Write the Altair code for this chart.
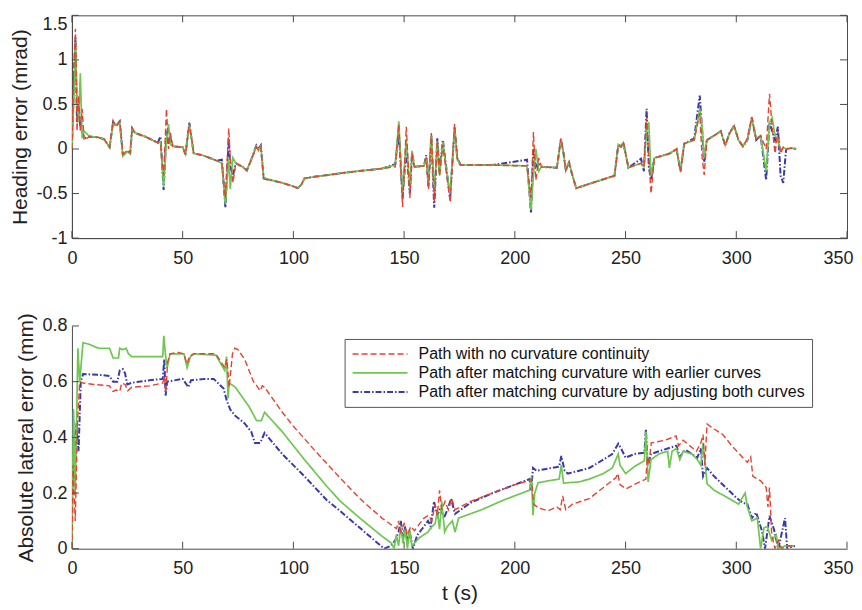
import altair as alt
import pandas as pd

SERIES = [
    "Path with no curvature continuity",
    "Path after matching curvature with earlier curves",
    "Path after matching curvature by adjusting both curves",
]
COLORS = ["#e5432f", "#6fc651", "#3a3aaa"]
DASHES = [[6, 3], [1, 0], [6, 2, 1.5, 2]]
WIDTHS = [1.4, 2.0, 1.2]

X_TICKS = [0, 50, 100, 150, 200, 250, 300, 350]
H_YTICKS = [-1, -0.5, 0, 0.5, 1, 1.5]
L_YTICKS = [0, 0.2, 0.4, 0.6, 0.8]

# ---------------- heading error (top panel) ----------------
H_T = [0, 0.8, 1.6, 2.3, 3.0, 3.8, 4.6, 5.5, 8, 12, 14.5, 17, 18.6, 20, 21.6, 23, 25, 26.3, 27.2, 28.5,
       33, 38.8, 40, 41.4, 42.7, 43.6, 44.5, 45.5, 50, 51.3, 53, 55, 59, 65.3, 67.7, 69.3, 70.8, 71.5, 72.7, 74,
       77, 79, 80.5, 83.3, 84.3, 85.3, 86.6, 90, 95, 100, 102, 103.6, 105, 110, 125, 140, 146, 147.6, 149.3, 151,
       152.6, 153.6, 154.6, 159, 160, 161, 162.3, 163.6, 165, 166, 167.5, 169, 170.8, 172.8, 174, 175.5, 190, 205.5, 207.3, 208.4,
       209.5, 210.8, 212, 219, 220.8, 222, 223, 224.5, 225.7, 227.7, 235, 245, 246.7, 248, 249, 251.3, 257, 258.3, 259.5, 260.5,
       261.5, 263, 266, 270, 273, 274.8, 276.5, 281, 283.5, 284.6, 285.5, 286.7, 290, 293, 295, 297, 299, 301, 303, 305,
       307, 309, 311, 313.5, 315, 316.2, 317.5, 318.8, 320, 321.2, 322.5, 325, 327]
H_RED = [0.0, 0.9, 1.35, 0.2, 0.6, 0.2, 0.45, 0.1, 0.14, 0.13, 0.11, 0.02, 0.32, 0.25, 0.31, -0.06, -0.02, -0.04, 0.24, 0.18,
         0.14, 0.07, 0.06, -0.3, 0.45, 0.0, 0.18, 0.03, 0.02, -0.06, 0.30, -0.05, -0.07, -0.13, -0.16, -0.55, 0.23, -0.1, -0.38, -0.16,
         -0.2, -0.24, -0.15, 0.02, -0.02, 0.02, -0.34, -0.35, -0.38, -0.42, -0.44, -0.4, -0.33, -0.31, -0.26, -0.22, -0.2, 0.28, -0.65, 0.25,
         -0.55, -0.05, -0.2, -0.19, -0.1, -0.45, 0.18, -0.6, 0.1, -0.3, 0.05, -0.25, -0.6, 0.28, -0.1, -0.18, -0.18, -0.19, -0.55, 0.19,
         -0.35, -0.1, -0.2, -0.21, 0.12, -0.05, -0.24, -0.15, -0.27, -0.44, -0.38, -0.3, 0.04, 0.02, 0.08, -0.21, -0.16, -0.2, 0.35, -0.1,
         -0.5, -0.1, -0.08, -0.05, 0.0, -0.26, 0.06, 0.1, 0.4, -0.1, -0.29, 0.1, 0.15, 0.2, 0.04, 0.18, 0.26, 0.1, 0.03, 0.12,
         0.36, 0.1, 0.15, 0.0, 0.62, 0.25, -0.05, 0.2, -0.05, 0.02, 0.0, 0.01, 0.0]
H_GRN = [0.0, 0.5, 1.2, 0.5, 0.3, 0.85, 0.12, 0.2, 0.14, 0.13, 0.11, 0.02, 0.28, 0.27, 0.30, -0.08, -0.03, -0.05, 0.22, 0.18,
         0.14, 0.07, 0.08, -0.42, 0.1, 0.28, 0.05, 0.03, 0.02, -0.06, 0.27, -0.05, -0.07, -0.13, -0.16, -0.62, -0.1, -0.45, -0.1, -0.16,
         -0.2, -0.24, -0.15, 0.03, -0.01, 0.03, -0.32, -0.35, -0.38, -0.42, -0.44, -0.4, -0.33, -0.31, -0.26, -0.22, -0.18, 0.31, -0.5, 0.1,
         -0.45, -0.02, -0.2, -0.19, -0.1, -0.4, 0.16, -0.5, 0.08, -0.3, 0.08, -0.22, -0.5, 0.25, -0.12, -0.18, -0.18, -0.19, -0.68, -0.3,
         0.0, -0.25, -0.2, -0.21, 0.1, -0.05, -0.24, -0.15, -0.27, -0.44, -0.38, -0.3, 0.05, 0.03, 0.07, -0.21, -0.16, -0.2, 0.2, 0.3,
         -0.3, -0.1, -0.08, -0.05, 0.0, -0.24, 0.06, 0.1, 0.45, 0.25, -0.1, 0.1, 0.15, 0.2, 0.04, 0.18, 0.26, 0.1, 0.03, 0.1,
         0.34, 0.12, 0.15, -0.25, 0.3, 0.35, 0.15, 0.1, -0.02, 0.02, 0.0, 0.01, 0.0]
H_BLU = [0.0, 0.7, 1.25, 0.3, 0.5, 0.25, 0.2, 0.12, 0.14, 0.13, 0.11, 0.02, 0.30, 0.26, 0.31, -0.07, -0.02, -0.05, 0.23, 0.18,
         0.14, 0.07, 0.14, -0.46, 0.2, 0.05, 0.12, 0.03, 0.02, -0.06, 0.29, -0.05, -0.07, -0.13, -0.12, -0.66, 0.12, -0.2, -0.3, -0.16,
         -0.2, -0.24, -0.15, 0.04, 0.0, 0.04, -0.33, -0.35, -0.38, -0.42, -0.44, -0.4, -0.33, -0.31, -0.26, -0.22, -0.17, 0.2, -0.55, 0.0,
         -0.5, -0.04, -0.2, -0.19, -0.07, -0.42, 0.15, -0.66, 0.12, -0.25, 0.1, -0.2, -0.55, 0.24, -0.1, -0.18, -0.18, -0.12, -0.72, 0.0,
         -0.2, -0.15, -0.2, -0.21, 0.11, -0.05, -0.24, -0.15, -0.27, -0.44, -0.38, -0.3, 0.05, 0.03, 0.07, -0.21, -0.11, -0.25, 0.45, -0.2,
         -0.35, -0.1, -0.08, -0.05, 0.0, -0.25, 0.06, 0.12, 0.6, 0.2, -0.15, 0.1, 0.15, 0.2, 0.04, 0.18, 0.26, 0.1, 0.03, 0.1,
         0.35, 0.1, 0.15, -0.35, 0.3, 0.2, 0.1, 0.25, -0.3, -0.38, 0.0, 0.01, 0.0]

# ---------------- absolute lateral error (bottom panel) ----------------
L_RED_T = [0, 0.5, 1.5, 2.5, 3.5, 5, 10, 17, 18.5, 20, 21.6, 22.5, 24, 25.2, 27, 35, 41, 41.8, 42.4, 43.2,
           44.3, 48, 50.5, 52, 53, 55, 60, 65, 67, 69, 70, 71, 72.5, 73.5, 75, 78, 82, 83.5, 85, 86,
           87, 95, 100, 110, 121, 130, 140, 146.6, 147.5, 148.5, 150, 151.5, 153, 154.7, 157, 159, 161, 162.5, 164, 165,
           166, 167, 168.5, 170, 171.5, 173, 180, 190, 200, 206.6, 207.5, 208.5, 210.5, 215, 219, 220.5, 221.6, 223, 226, 233.6,
           240, 245.6, 246.5, 247.5, 250.2, 255, 259.2, 259.8, 260.5, 261.6, 268, 272.8, 274, 276, 282, 284, 285, 285.8, 286.8, 290,
           293.9, 298, 301.4, 305, 306.5, 307.5, 311, 313.5, 314.3, 315, 316, 317.5, 319, 320.5, 323, 326.5]
L_RED = [0.0, 0.3, 0.1, 0.45, 0.6, 0.595, 0.59, 0.585, 0.565, 0.57, 0.565, 0.595, 0.59, 0.567, 0.58, 0.585, 0.595, 0.62, 0.56, 0.67,
         0.70, 0.705, 0.70, 0.663, 0.69, 0.70, 0.70, 0.70, 0.675, 0.65, 0.68, 0.58, 0.70, 0.72, 0.715, 0.68, 0.60, 0.585, 0.567, 0.585,
         0.58, 0.49, 0.44, 0.35, 0.255, 0.18, 0.11, 0.072, 0.10, 0.06, 0.09, 0.05, 0.08, 0.065, 0.09, 0.11, 0.12, 0.10, 0.16, 0.12,
         0.21, 0.14, 0.17, 0.14, 0.18, 0.14, 0.17, 0.20, 0.23, 0.245, 0.25, 0.16, 0.147, 0.136, 0.15, 0.14, 0.19, 0.14, 0.16, 0.18,
         0.22, 0.255, 0.27, 0.23, 0.215, 0.235, 0.25, 0.33, 0.30, 0.38, 0.39, 0.405, 0.37, 0.39, 0.35, 0.38, 0.41, 0.30, 0.448, 0.43,
         0.41, 0.37, 0.34, 0.31, 0.33, 0.26, 0.244, 0.22, 0.15, 0.22, 0.05, 0.0, 0.03, 0.0, 0.01, 0.01]

L_GRN_T = [0, 0.7, 1.5, 2.7, 3.5, 5, 7.5, 12, 17, 18.6, 21, 21.6, 23, 24.5, 25.5, 27, 35, 41, 41.5, 42.2,
           43, 44.3, 50.6, 52, 53.5, 55, 65, 69, 69.8, 70.5, 71, 73.8, 80, 83.4, 85.5, 87, 95, 105, 115, 121,
           130, 140, 144.3, 145.5, 146.5, 147.5, 148.5, 149.5, 150.5, 151.5, 152.5, 153.5, 154.7, 157, 160.8, 162, 164, 165, 166, 167,
           168.3, 169.5, 171.8, 173, 174.6, 185, 195, 206.6, 207.5, 208.2, 209, 210.5, 216, 220, 221, 222, 224, 229, 233.6, 240,
           244, 246.7, 247.5, 250, 254, 258.5, 259.2, 260.2, 261.5, 265, 269, 269.8, 271, 273, 274.5, 276, 280, 282.4, 284, 285,
           286.8, 290, 296.8, 301, 304, 305, 307, 309.5, 311, 312.5, 314, 316, 318, 319, 322, 325.6]
L_GRN = [0.0, 0.5, 0.2, 0.72, 0.60, 0.74, 0.735, 0.72, 0.72, 0.685, 0.685, 0.72, 0.715, 0.72, 0.70, 0.69, 0.69, 0.69, 0.765, 0.70,
         0.65, 0.70, 0.70, 0.65, 0.69, 0.70, 0.695, 0.64, 0.69, 0.54, 0.595, 0.58, 0.51, 0.46, 0.46, 0.49, 0.42, 0.32, 0.225, 0.172,
         0.11, 0.045, 0.02, 0.0, 0.05, 0.01, 0.08, 0.02, 0.07, 0.0, 0.07, 0.01, 0.02, 0.04, 0.06, 0.075, 0.09, 0.135, 0.07, 0.17,
         0.06, 0.08, 0.10, 0.06, 0.11, 0.14, 0.175, 0.21, 0.26, 0.12, 0.2, 0.237, 0.245, 0.25, 0.30, 0.235, 0.237, 0.24, 0.25, 0.27,
         0.29, 0.34, 0.30, 0.27, 0.295, 0.316, 0.42, 0.24, 0.32, 0.34, 0.35, 0.29, 0.35, 0.36, 0.32, 0.35, 0.34, 0.32, 0.30, 0.38,
         0.233, 0.21, 0.18, 0.16, 0.2, 0.15, 0.10, 0.11, 0.0, 0.075, 0.08, 0.03, 0.05, 0.0, 0.01, 0.01]

L_BLU_T = [0, 0.5, 1.2, 2, 3, 4, 5, 12, 17, 18.6, 20.5, 21.6, 23, 24, 25, 27, 35, 41, 41.7, 42.3,
           43, 50, 52.6, 53.8, 60, 64, 68.5, 70, 71.5, 73.8, 78, 81, 82.6, 85, 87, 95, 105, 115, 121, 130,
           141, 144, 146, 147.5, 148.5, 149.5, 150.5, 151.5, 152.5, 154, 156, 158, 160.8, 162, 163.5, 165, 166.5, 168, 170, 171.2,
           173, 180, 190, 200, 206.6, 207.4, 208.2, 209.8, 216.6, 220, 221, 222.5, 224, 229, 233.6, 240, 244, 246.7, 248, 250,
           254, 258.5, 259.2, 260, 261.5, 265, 269, 273, 274.5, 277, 282.4, 284, 285, 286.8, 290, 296.8, 300, 302.9, 305, 307,
           309, 311.6, 313, 315, 317, 319, 322, 323, 326.5]
L_BLU = [0.0, 0.5, 0.25, 0.45, 0.35, 0.6, 0.627, 0.625, 0.62, 0.60, 0.60, 0.64, 0.645, 0.63, 0.59, 0.596, 0.605, 0.61, 0.68, 0.55,
         0.60, 0.61, 0.58, 0.605, 0.61, 0.61, 0.575, 0.53, 0.50, 0.477, 0.45, 0.42, 0.38, 0.38, 0.416, 0.34, 0.26, 0.175, 0.136, 0.075,
         0.0, 0.01, 0.03, 0.06, 0.10, 0.04, 0.08, 0.02, 0.06, 0.0, 0.05, 0.07, 0.10, 0.08, 0.17, 0.12, 0.147, 0.11, 0.15, 0.18,
         0.125, 0.165, 0.20, 0.23, 0.25, 0.21, 0.29, 0.28, 0.29, 0.295, 0.333, 0.28, 0.27, 0.28, 0.29, 0.32, 0.34, 0.377, 0.36, 0.327,
         0.34, 0.345, 0.43, 0.30, 0.34, 0.35, 0.36, 0.37, 0.33, 0.355, 0.327, 0.36, 0.26, 0.29, 0.26, 0.208, 0.183, 0.165, 0.16, 0.11,
         0.13, 0.064, 0.0, 0.118, 0.07, 0.0, 0.11, 0.0, 0.01]

W, H = 776, 223
AX = "#4a4a4a"
FONT = "Liberation Sans"
TICK = 7


def long_df(parts):
    rows = []
    for name, ts, vs in parts:
        for t, v in zip(ts, vs):
            rows.append({"t": t, "v": v, "series": name})
    return pd.DataFrame(rows)


# draw order: blue, green, red (red on top)
top_df = long_df([(SERIES[2], H_T, H_BLU), (SERIES[1], H_T, H_GRN), (SERIES[0], H_T, H_RED)])
bot_df = long_df([(SERIES[2], L_BLU_T, L_BLU), (SERIES[1], L_GRN_T, L_GRN), (SERIES[0], L_RED_T, L_RED)])

label_expr = "datum.value < 0 ? '-' + format(-datum.value, '~g') : format(datum.value, '~g')"


def x_axis(title):
    kw = dict(values=X_TICKS, ticks=False, tickSize=0, grid=False, labelPadding=11,
              domainColor=AX, labelColor="#222222", labelFont=FONT, labelFontSize=18,
              titleFont=FONT, titleFontSize=21, titleFontWeight="normal", titleColor="#222222",
              titlePadding=5, labelFlush=False,
              labelOffset=alt.condition("datum.value == 350", alt.value(-9), alt.value(0)))
    if title:
        return alt.Axis(title=title, **kw)
    return alt.Axis(title=None, **kw)


def y_axis(title, vals):
    return alt.Axis(title=title, values=vals, ticks=False, tickSize=0, grid=False, labelPadding=5,
                    domainColor=AX, labelColor="#222222", labelFont=FONT, labelFontSize=18,
                    titleFont=FONT, titleFontSize=21, titleFontWeight="normal", titleColor="#222222",
                    titlePadding=5, labelExpr=label_expr, labelFlush=False,
                    labelBaseline=alt.condition("datum.value == 1.5", alt.value("top"), alt.value("middle")))


def lines(df, ydom, ytitle, yvals, xtitle, legend):
    return alt.Chart(df).mark_line(clip=True).encode(
        x=alt.X("t:Q", scale=alt.Scale(domain=[0, 350], nice=False, zero=False), axis=x_axis(xtitle)),
        y=alt.Y("v:Q", scale=alt.Scale(domain=ydom, nice=False, zero=False), axis=y_axis(ytitle, yvals)),
        color=alt.Color("series:N", scale=alt.Scale(domain=SERIES, range=COLORS), sort=None, legend=legend),
        strokeDash=alt.StrokeDash("series:N", scale=alt.Scale(domain=SERIES, range=DASHES), sort=None, legend=legend),
        strokeWidth=alt.StrokeWidth("series:O", scale=alt.Scale(domain=SERIES, range=WIDTHS), legend=None),
    )


def tick_layers(yvals, box):
    xt = pd.DataFrame({"t": X_TICKS})
    yt = pd.DataFrame({"v": yvals})
    layers = [
        alt.Chart(xt).mark_rule(color=AX, strokeWidth=1).encode(x="t:Q", y=alt.value(H), y2=alt.value(H - TICK)),
        alt.Chart(yt).mark_rule(color=AX, strokeWidth=1).encode(y="v:Q", x=alt.value(0), x2=alt.value(TICK)),
    ]
    if box:
        layers += [
            alt.Chart(xt).mark_rule(color=AX, strokeWidth=1).encode(x="t:Q", y=alt.value(0), y2=alt.value(TICK)),
            alt.Chart(yt).mark_rule(color=AX, strokeWidth=1).encode(y="v:Q", x=alt.value(W), x2=alt.value(W - TICK)),
        ]
    return layers


legend = alt.Legend(
    title=None, orient="none", legendX=273, legendY=13, direction="vertical",
    labelFont=FONT, labelFontSize=16, labelColor="#111111", labelLimit=600, labelOffset=10,
    symbolType="stroke", symbolSize=3025, symbolStrokeWidth=1.6, clipHeight=16, rowPadding=3,
    padding=7, strokeColor="#555555", fillColor="white", cornerRadius=0,
)

top = alt.layer(
    lines(top_df, [-1, 1.5], "Heading error (mrad)", H_YTICKS, None, None),
    *tick_layers(H_YTICKS, True),
).properties(width=W, height=H, view=alt.ViewBackground(stroke=AX, strokeWidth=1))

bottom = alt.layer(
    lines(bot_df, [0, 0.8], "Absolute lateral error (mm)", L_YTICKS, "t (s)", legend),
    *tick_layers(L_YTICKS, False),
).properties(width=W, height=H, view=alt.ViewBackground(stroke="transparent"))

chart = alt.vconcat(top, bottom, spacing=44).properties(
    padding={"left": 1, "top": 6, "right": 0, "bottom": 0},
    background="white",
).resolve_scale(
    color="independent", strokeDash="independent", strokeWidth="independent"
).resolve_legend(color="independent", strokeDash="independent")

chart.save("out.html", embed_options={"renderer": "svg", "actions": False})
